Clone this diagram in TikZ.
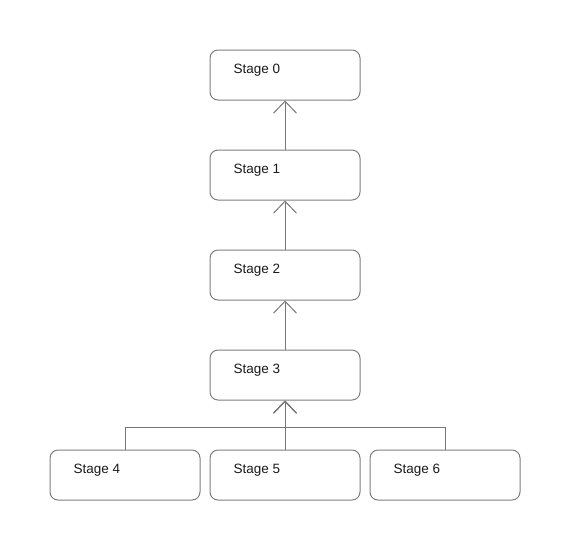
\documentclass[tikz,border=0pt]{standalone}
\usepackage{fontspec}
\setmainfont{Liberation Sans}
\usetikzlibrary{arrows.meta}
\definecolor{boxline}{HTML}{7F7F7F}
\definecolor{conn}{HTML}{777777}
\definecolor{txt}{HTML}{1A1A1A}
\begin{document}
\begin{tikzpicture}[x=1pt,y=-1pt,
  stagebox/.style={draw=boxline,line width=1pt,rounded corners=8pt,minimum width=150pt,minimum height=50pt,inner sep=0pt,fill=white},
  lbl/.style={anchor=west,inner sep=0pt,font=\fontsize{13.5pt}{16pt}\selectfont,text=txt},
  conn/.style={draw=conn,line width=1pt,-{Straight Barb[length=12pt,width=23pt,line width=1pt]}}]
\useasboundingbox (0,0) rectangle (570,550);
\node[stagebox] (s0) at (285,75) {};
\node[stagebox] (s1) at (285,175) {};
\node[stagebox] (s2) at (285,275) {};
\node[stagebox] (s3) at (285,375) {};
\node[stagebox] (s4) at (125,475) {};
\node[stagebox] (s5) at (285,475) {};
\node[stagebox] (s6) at (445,475) {};
\foreach \n/\t in {s0/Stage 0,s1/Stage 1,s2/Stage 2,s3/Stage 3,s4/Stage 4,s5/Stage 5,s6/Stage 6}{
  \node[lbl] (t\n) at ([xshift=24pt,yshift=5pt]\n.west) {\t};
}
\coordinate (j) at (285,427);
\draw[conn] (s1.north) -- (s0.south);
\draw[conn] (s2.north) -- (s1.south);
\draw[conn] (s3.north) -- (s2.south);
\draw[conn] (s4.north) |- (j) -- (s3.south);
\draw[conn] (s6.north) |- (j) -- (s3.south);
\draw[conn] (s5.north) -- (s3.south);
\end{tikzpicture}
\end{document}
